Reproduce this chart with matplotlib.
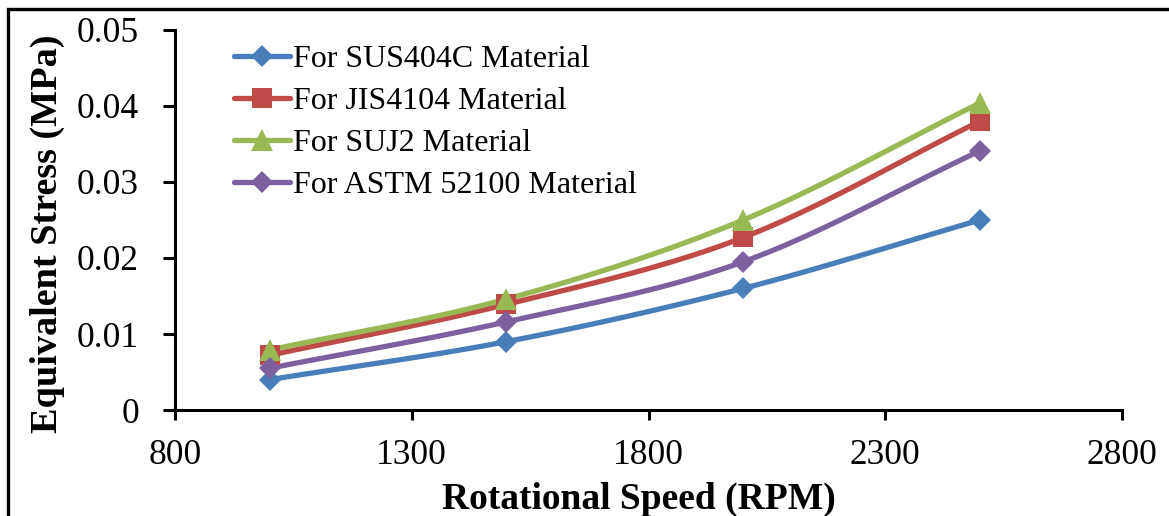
import numpy as np
import matplotlib.pyplot as plt
from matplotlib.lines import Line2D

plt.rcParams['font.family'] = ['Liberation Serif', 'DejaVu Serif']

# data
speed = [1000, 1500, 2000, 2500]
sus404c = [0.0040, 0.0090, 0.0160, 0.0250]
jis4104 = [0.0072, 0.0139, 0.0227, 0.0380]
suj2 = [0.0079, 0.0146, 0.0250, 0.0404]
astm52100 = [0.0055, 0.0116, 0.0195, 0.0341]

labels = ['For SUS404C Material', 'For JIS4104 Material',
          'For SUJ2 Material', 'For ASTM 52100 Material']
colors = ['#4A7EBB', '#BE4B48', '#98B954', '#7D60A0']
markers = ['D', 's', '^', 'D']
msizes = [11.5, 14, 16, 11.5]


def smooth(x, y, n=30):
    # Catmull-Rom style curve through the points (like Excel "smoothed line")
    x = np.asarray(x, float)
    y = np.asarray(y, float)
    px = np.concatenate([[2 * x[0] - x[1]], x, [2 * x[-1] - x[-2]]])
    py = np.concatenate([[2 * y[0] - y[1]], y, [2 * y[-1] - y[-2]]])
    xs, ys = [], []
    t = np.linspace(0, 1, n)
    for i in range(1, len(px) - 2):
        for p, out in ((px, xs), (py, ys)):
            p0, p1, p2, p3 = p[i - 1], p[i], p[i + 1], p[i + 2]
            out.extend(0.5 * (2 * p1 + (-p0 + p2) * t
                              + (2 * p0 - 5 * p1 + 4 * p2 - p3) * t ** 2
                              + (-p0 + 3 * p1 - 3 * p2 + p3) * t ** 3))
    return xs, ys


fig = plt.figure(figsize=(11.69, 5.16), dpi=100)
ax = fig.add_axes([0.1497, 0.2054, 0.8101, 0.7365])

handles = []
for ys, lab, c, m, ms in zip([sus404c, jis4104, suj2, astm52100], labels, colors, markers, msizes):
    sx, sy = smooth(speed, ys)
    ax.plot(sx, sy, color=c, lw=3.8, solid_capstyle='round', zorder=2)
    ax.plot(speed, ys, linestyle='none', marker=m, color=c, markersize=ms,
            markeredgewidth=0, zorder=3)
    handles.append(Line2D([], [], color=c, lw=3.8, marker=m, markersize=ms,
                          markeredgewidth=0, solid_capstyle='round'))

ax.set_xlim(800, 2800)
ax.set_ylim(0, 0.05)
ax.set_xticks([800, 1300, 1800, 2300, 2800])
ax.set_yticks([0, 0.01, 0.02, 0.03, 0.04, 0.05])
ax.set_yticklabels(['0', '0.01', '0.02', '0.03', '0.04', '0.05'])

for s in ['top', 'right']:
    ax.spines[s].set_visible(False)
for s in ['left', 'bottom']:
    ax.spines[s].set_linewidth(2.2)
ax.tick_params(axis='both', direction='out', width=2.2, labelsize=25.5)
ax.tick_params(axis='y', length=9, pad=17)
ax.tick_params(axis='x', length=7, pad=14)

ax.set_xlabel('Rotational Speed (RPM)', fontsize=27, fontweight='bold')
ax.set_ylabel('Equivalent Stress (MPa)', fontsize=27.5, fontweight='bold')
ax.xaxis.set_label_coords(0.49, -0.19)
ax.yaxis.set_label_coords(-0.116, 0.465)

ax.legend(handles=handles, labels=labels, loc='upper left', bbox_to_anchor=(0.039, 1.021),
          frameon=False, fontsize=23, handlelength=1.75, handletextpad=0.1,
          labelspacing=0.4, borderaxespad=0.3)

# outer frame of the chart (right and bottom edges fall outside the image)
fig.add_artist(Line2D([0.0065, 0.0065, 1.0], [0.0, 0.982, 0.982], transform=fig.transFigure,
                      color='black', lw=2.4, solid_joinstyle='miter'))

fig.savefig('out.png', dpi=100)
